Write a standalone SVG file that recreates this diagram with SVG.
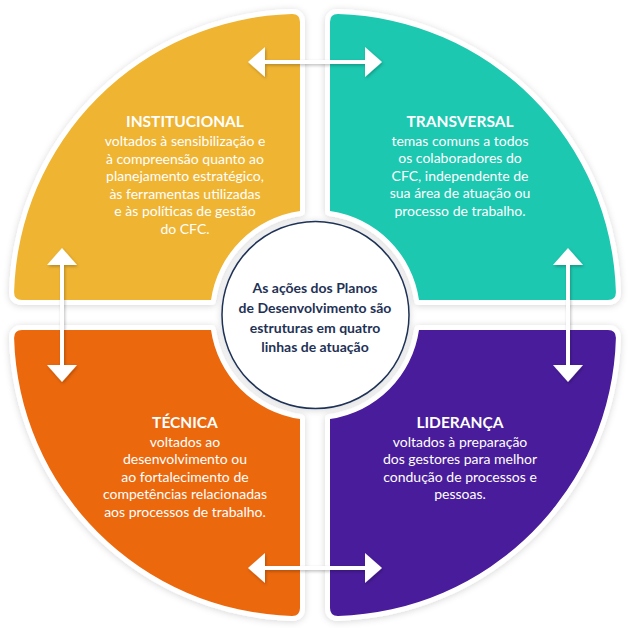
<svg xmlns="http://www.w3.org/2000/svg" width="629" height="628" viewBox="0 0 629 628">
<defs>
<filter id="sh" x="-10%" y="-10%" width="120%" height="120%">
<feDropShadow dx="0" dy="1" stdDeviation="3.5" flood-color="#000" flood-opacity="0.16"/>
</filter>
<filter id="ash" x="-20%" y="-50%" width="140%" height="200%">
<feDropShadow dx="1" dy="1.5" stdDeviation="1.5" flood-color="#000" flood-opacity="0.25"/>
</filter>
</defs>
<style>
.q{stroke:#fff;stroke-width:10;stroke-linejoin:round;paint-order:stroke;filter:url(#sh)}
.t{font-family:Lato,"Liberation Sans",sans-serif;fill:#fff;text-anchor:middle}
.h{font-size:15.5px;font-weight:700}
.b{font-size:14px}
.c{font-family:Lato,"Liberation Sans",sans-serif;fill:#1F3256;text-anchor:middle;font-size:14px;font-weight:700}
.ar line{stroke:#fff;stroke-width:4}
.ar polygon{fill:#fff}
</style>
<g id="institucional">
<path class="q" fill="#EFB430" d="M300,211 L300,22 Q300,14 292,14.1 A286 286 0 0 0 14.1,292 Q14,300 22,300 L211,300 A105 105 0 0 1 300,211 Z"/>
<text class="t" x="185"><tspan class="h" y="127">INSTITUCIONAL</tspan><tspan class="b" x="185" y="146">voltados à sensibilização e</tspan><tspan class="b" x="185" y="163.5">à compreensão quanto ao</tspan><tspan class="b" x="185" y="181">planejamento estratégico,</tspan><tspan class="b" x="185" y="198.5">às ferramentas utilizadas</tspan><tspan class="b" x="185" y="216">e às políticas de gestão</tspan><tspan class="b" x="185" y="233.5">do CFC.</tspan></text>
</g>
<g id="transversal">
<path class="q" fill="#1EC8B0" d="M330,211 L330,22 Q330,14 338,14.1 A286 286 0 0 1 615.9,292 Q616,300 608,300 L419,300 A105 105 0 0 0 330,211 Z"/>
<text class="t" x="460"><tspan class="h" y="127">TRANSVERSAL</tspan><tspan class="b" x="460" y="145.5">temas comuns a todos</tspan><tspan class="b" x="460" y="163">os colaboradores do</tspan><tspan class="b" x="460" y="180.5">CFC, independente de</tspan><tspan class="b" x="460" y="198">sua área de atuação ou</tspan><tspan class="b" x="460" y="215.5">processo de trabalho.</tspan></text>
</g>
<g id="tecnica">
<path class="q" fill="#EB6810" d="M300,419 L300,608 Q300,616 292,615.9 A286 286 0 0 1 14.1,338 Q14,330 22,330 L211,330 A105 105 0 0 0 300,419 Z"/>
<text class="t" x="185"><tspan class="h" y="428">TÉCNICA</tspan><tspan class="b" x="185" y="446.5">voltados ao</tspan><tspan class="b" x="185" y="464">desenvolvimento ou</tspan><tspan class="b" x="185" y="481.5">ao fortalecimento de</tspan><tspan class="b" x="185" y="499">competências relacionadas</tspan><tspan class="b" x="185" y="516.5">aos processos de trabalho.</tspan></text>
</g>
<g id="lideranca">
<path class="q" fill="#4A1A9B" d="M330,419 L330,608 Q330,616 338,615.9 A286 286 0 0 0 615.9,338 Q616,330 608,330 L419,330 A105 105 0 0 1 330,419 Z"/>
<text class="t" x="460"><tspan class="h" y="428">LIDERANÇA</tspan><tspan class="b" x="460" y="446.5">voltados à preparação</tspan><tspan class="b" x="460" y="464">dos gestores para melhor</tspan><tspan class="b" x="460" y="481.5">condução de processos e</tspan><tspan class="b" x="460" y="499">pessoas.</tspan></text>
</g>
<g id="centro">
<circle cx="315.5" cy="315" r="93.5" fill="#fff" stroke="#1F3256" stroke-width="1.5" filter="url(#sh)"/>
<text class="c" x="315"><tspan y="292.5">As ações dos Planos</tspan><tspan x="315" y="312.5">de Desenvolvimento são</tspan><tspan x="315" y="332.5">estruturas em quatro</tspan><tspan x="315" y="352">linhas de atuação</tspan></text>
</g>
<g id="connectors" class="ar" filter="url(#ash)">
<line x1="262" y1="62" x2="368" y2="62"/><polygon points="248,62 265,47 265,77"/><polygon points="382,62 365,47 365,77"/>
<line x1="262" y1="568" x2="368" y2="568"/><polygon points="248,568 265,553 265,583"/><polygon points="382,568 365,553 365,583"/>
<line x1="62" y1="262" x2="62" y2="368"/><polygon points="62,248 47,265 77,265"/><polygon points="62,382 47,365 77,365"/>
<line x1="568" y1="262" x2="568" y2="368"/><polygon points="568,248 553,265 583,265"/><polygon points="568,382 553,365 583,365"/>
</g>
</svg>
